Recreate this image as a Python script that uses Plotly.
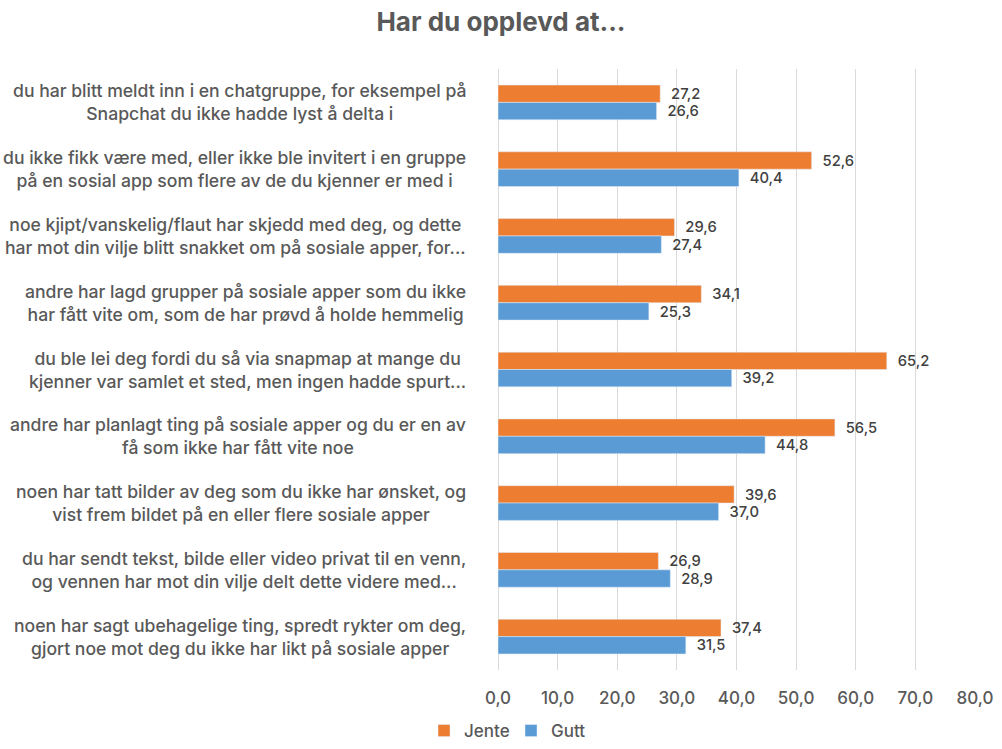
import plotly.graph_objects as go

categories = [
    "du har blitt meldt inn i en chatgruppe, for eksempel på<br>Snapchat du ikke hadde lyst å delta i",
    "du ikke fikk være med, eller ikke ble invitert i en gruppe<br>på en sosial app som flere av de du kjenner er med i",
    "noe kjipt/vanskelig/flaut har skjedd med deg, og dette<br>har mot din vilje blitt snakket om på sosiale apper, for...",
    "andre har lagd grupper på sosiale apper som du ikke<br>har fått vite om, som de har prøvd å holde hemmelig",
    "du ble lei deg fordi du så via snapmap at mange du<br>kjenner var samlet et sted, men ingen hadde spurt...",
    "andre har planlagt ting på sosiale apper og du er en av<br>få som ikke har fått vite noe",
    "noen har tatt bilder av deg som du ikke har ønsket, og<br>vist frem bildet på en eller flere sosiale apper",
    "du har sendt tekst, bilde eller video privat til en venn,<br>og vennen har mot din vilje delt dette videre med...",
    "noen har sagt ubehagelige ting, spredt rykter om deg,<br>gjort noe mot deg du ikke har likt på sosiale apper",
]
jente = [27.2, 52.6, 29.6, 34.1, 65.2, 56.5, 39.6, 26.9, 37.4]
gutt = [26.6, 40.4, 27.4, 25.3, 39.2, 44.8, 37.0, 28.9, 31.5]
x_ticks = [0, 10, 20, 30, 40, 50, 60, 70, 80]

FONT = "Inter"
TEXT_GRAY = "#595959"
fig = go.Figure()
for name, vals, col in [("Jente", jente, "#ED7D31"), ("Gutt", gutt, "#5B9BD5")]:
    fig.add_trace(go.Bar(
        y=categories, x=vals, name=name, orientation="h",
        marker=dict(color=col),
        texttemplate="\u00a0\u00a0%{x:.1f}", textposition="outside",
        textfont=dict(size=17, color="#404040", family=FONT, weight=500),
        cliponaxis=False,
    ))

for c in categories:
    fig.add_annotation(
        x=-0.062, xref="paper", y=c, yref="y",
        text=c, showarrow=False, xanchor="right", align="center",
        font=dict(size=17.6, color=TEXT_GRAY, family=FONT, weight=500),
    )

fig.update_layout(
    width=1002, height=749,
    separators=",.",
    barmode="group", bargap=0.48, bargroupgap=0,
    title=dict(text="<b>Har du opplevd at...</b>", x=0.5, xanchor="center",
               y=1 - 22 / 749, yanchor="middle", pad=dict(t=0, b=0),
               font=dict(size=26, color=TEXT_GRAY, family=FONT)),
    margin=dict(l=498, r=27, t=69, b=79, autoexpand=False),
    paper_bgcolor="white", plot_bgcolor="white",
    xaxis=dict(range=[0, 80], tickvals=x_ticks, tickformat=".1f",
               showgrid=True, gridcolor="#D9D9D9", gridwidth=1,
               zeroline=True, zerolinecolor="#D9D9D9", zerolinewidth=1,
               showline=False, ticks="", automargin=False,
               ticklabelstandoff=16,
               tickfont=dict(size=17, color=TEXT_GRAY, family=FONT, weight=500)),
    yaxis=dict(autorange="reversed", showticklabels=False, showgrid=False,
               ticks="", showline=False, automargin=False),
    legend=dict(orientation="h", xref="container", yref="container",
                x=0.51, xanchor="center", y=-0.012, yanchor="bottom",
                font=dict(size=17, color=TEXT_GRAY, family=FONT, weight=500),
                itemwidth=30, traceorder="normal", entrywidth=42,
                entrywidthmode="pixels"),
    showlegend=True,
)

fig.write_html("out.html", config={"displayModeBar": False},
               post_script="document.body.style.margin='0';")
